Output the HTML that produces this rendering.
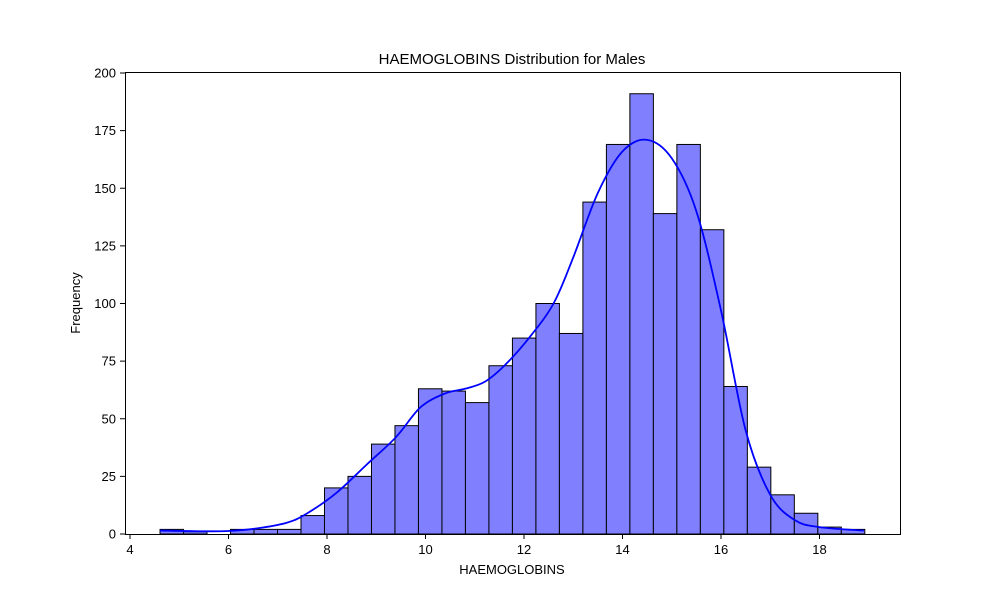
<!DOCTYPE html>
<html><head><meta charset="utf-8"><style>
body{margin:0;background:#fff;font-family:"Liberation Sans",sans-serif}
</style></head><body>
<svg width="1000" height="600" xmlns="http://www.w3.org/2000/svg">
<rect width="1000" height="600" fill="#fff"/>
<g id="bars"></g>
<path id="kde" fill="none" stroke="#0000ff" stroke-width="1.8"/>
<rect x="125.5" y="72.5" width="775" height="462" fill="none" stroke="#000" stroke-width="1"/>
<g id="xt"></g>
<g id="yt"></g>
<text x="512" y="64" text-anchor="middle" font-size="15">HAEMOGLOBINS Distribution for Males</text>
<text x="512" y="574" text-anchor="middle" font-size="13">HAEMOGLOBINS</text>
<text x="80" y="303" text-anchor="middle" font-size="13" transform="rotate(-90 80 303)">Frequency</text>
</svg>
<script>
const binStart = 4.61;
const binWidth = 0.477;
const counts = [2,1,0,2,2,2,8,20,25,39,47,63,62,57,73,85,100,87,144,169,191,139,169,132,64,29,17,9,3,2];
const kdeX = [4.61,5.4,6.0,6.6,7.2,7.6,8.2,8.8,9.4,9.9,10.4,10.8,11.2,11.6,12.1,12.6,13.0,13.5,14.0,14.5,15.0,15.5,16.0,16.5,17.0,17.5,18.0,18.9];
const kdeY = [1.5,1.2,1.3,2.5,5,9,18,30,42,55,61,63,66,73,85,100,120,148,166,171,163,140,97,45,17,6,3,1.5];
const xTicks = [4,6,8,10,12,14,16,18];
const yTicks = [0,25,50,75,100,125,150,175,200];
const X = v => 130 + (v - 4) * 49.25;
const Y = v => 534 - v * 2.305;
const NS = "http://www.w3.org/2000/svg";
const bars = document.getElementById('bars');
counts.forEach((c, i) => {
  const r = document.createElementNS(NS, 'rect');
  const x0 = X(binStart + i * binWidth), x1 = X(binStart + (i + 1) * binWidth);
  r.setAttribute('x', x0); r.setAttribute('width', x1 - x0);
  r.setAttribute('y', Y(c)); r.setAttribute('height', Y(0) - Y(c));
  r.setAttribute('fill', '#8080ff'); r.setAttribute('stroke', '#000'); r.setAttribute('stroke-width', '1');
  
  
  bars.appendChild(r);
});
// smooth curve via Catmull-Rom
const pts = kdeX.map((x, i) => [X(x), Y(kdeY[i])]);
let d = `M${pts[0][0]},${pts[0][1]}`;
for (let i = 0; i < pts.length - 1; i++) {
  const p0 = pts[Math.max(0, i - 1)], p1 = pts[i], p2 = pts[i + 1], p3 = pts[Math.min(pts.length - 1, i + 2)];
  const c1 = [p1[0] + (p2[0] - p0[0]) / 6, p1[1] + (p2[1] - p0[1]) / 6];
  const c2 = [p2[0] - (p3[0] - p1[0]) / 6, p2[1] - (p3[1] - p1[1]) / 6];
  d += ` C${c1[0]},${c1[1]} ${c2[0]},${c2[1]} ${p2[0]},${p2[1]}`;
}
document.getElementById('kde').setAttribute('d', d);
const xt = document.getElementById('xt');
xTicks.forEach(t => {
  const l = document.createElementNS(NS, 'line');
  l.setAttribute('x1', X(t)); l.setAttribute('x2', X(t)); l.setAttribute('y1', 534); l.setAttribute('y2', 539);
  l.setAttribute('stroke', '#000');
  
  
  xt.appendChild(l);
  const s = document.createElementNS(NS, 'text');
  s.setAttribute('x', X(t)); s.setAttribute('y', 554); s.setAttribute('text-anchor', 'middle'); s.setAttribute('font-size', '13');
  s.textContent = t;
  
  
  xt.appendChild(s);
});
const yt = document.getElementById('yt');
yTicks.forEach(t => {
  const l = document.createElementNS(NS, 'line');
  l.setAttribute('x1', 120); l.setAttribute('x2', 125); l.setAttribute('y1', Y(t)); l.setAttribute('y2', Y(t));
  l.setAttribute('stroke', '#000');
  
  
  yt.appendChild(l);
  const s = document.createElementNS(NS, 'text');
  s.setAttribute('x', 116); s.setAttribute('y', Y(t) + 4.5); s.setAttribute('text-anchor', 'end'); s.setAttribute('font-size', '13');
  s.textContent = t;
  
  
  yt.appendChild(s);
});
</script>
</body></html>
